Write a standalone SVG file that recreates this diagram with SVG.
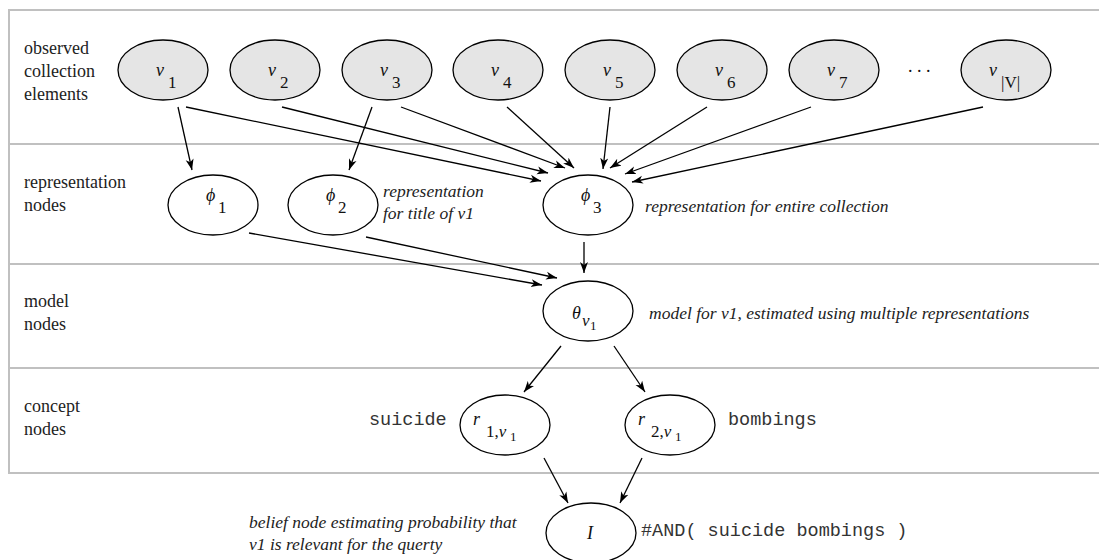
<svg xmlns="http://www.w3.org/2000/svg" width="1099" height="560" viewBox="0 0 1099 560">
  <defs>
    <marker id="ah" markerWidth="12" markerHeight="9" refX="11" refY="4.5" orient="auto" markerUnits="userSpaceOnUse">
      <path d="M0,0.5 L11,4.5 L0,8.5 L3,4.5 Z" fill="#000"/>
    </marker>
    <style>
      .band{fill:none;stroke:#c0c0c0;stroke-width:2}
      .row{font-family:"Liberation Serif",serif;font-size:18px;fill:#222}
      .note{font-family:"Liberation Serif",serif;font-size:17.5px;font-style:italic;fill:#222}
      .mono{font-family:"Liberation Mono",monospace;font-size:18.5px;fill:#333}
      .obs{fill:#e5e5e5;stroke:#000;stroke-width:1.3}
      .nd{fill:#fff;stroke:#000;stroke-width:1.3}
      .lbl{font-family:"Liberation Serif",serif;font-size:18px;fill:#111}
      .it{font-style:italic}
      .sub{font-size:17px}
      .ss{font-size:13px}
      .e{stroke:#000;stroke-width:1.3;fill:none;marker-end:url(#ah)}
    </style>
  </defs>

  <rect width="1099" height="560" fill="#fff"/>

  <!-- layer bands -->
  <g id="bands">
    <path class="band" d="M1100,10 H9 V473 H1100"/>
    <line class="band" x1="9" y1="144" x2="1100" y2="144"/>
    <line class="band" x1="9" y1="264" x2="1100" y2="264"/>
    <line class="band" x1="9" y1="368" x2="1100" y2="368"/>
    <text class="row" x="24" y="54">observed</text>
    <text class="row" x="24" y="77">collection</text>
    <text class="row" x="24" y="100">elements</text>
    <text class="row" x="24" y="188">representation</text>
    <text class="row" x="24" y="211">nodes</text>
    <text class="row" x="24" y="307">model</text>
    <text class="row" x="24" y="330">nodes</text>
    <text class="row" x="24" y="412">concept</text>
    <text class="row" x="24" y="435">nodes</text>
  </g>

  <!-- connectors -->
  <g id="edges">
    <line class="e" x1="178" y1="107" x2="192" y2="170"/>
    <line class="e" x1="186" y1="107" x2="541" y2="181"/>
    <line class="e" x1="282" y1="107" x2="548" y2="173"/>
    <line class="e" x1="372" y1="107" x2="349" y2="170"/>
    <line class="e" x1="401" y1="107" x2="565" y2="168"/>
    <line class="e" x1="507" y1="107" x2="574" y2="168"/>
    <line class="e" x1="610" y1="107" x2="603" y2="169"/>
    <line class="e" x1="707" y1="107" x2="610" y2="168"/>
    <line class="e" x1="811" y1="107" x2="625" y2="174"/>
    <line class="e" x1="983" y1="107" x2="632" y2="182"/>
    <line class="e" x1="249" y1="233" x2="542" y2="285"/>
    <line class="e" x1="366" y1="237" x2="557" y2="278"/>
    <line class="e" x1="584" y1="242" x2="584" y2="273"/>
    <line class="e" x1="561" y1="346" x2="524" y2="392"/>
    <line class="e" x1="614" y1="346" x2="645" y2="392"/>
    <line class="e" x1="544" y1="458" x2="568" y2="503"/>
    <line class="e" x1="642" y1="458" x2="620" y2="503"/>
  </g>

  <!-- observed collection elements -->
  <g id="v1"><ellipse class="obs" cx="163" cy="70" rx="45" ry="30"/>
    <text class="lbl" x="156" y="76"><tspan class="it">v</tspan><tspan class="sub" x="168" y="88">1</tspan></text></g>
  <g id="v2"><ellipse class="obs" cx="275" cy="70" rx="45" ry="30"/>
    <text class="lbl" x="268" y="76"><tspan class="it">v</tspan><tspan class="sub" x="280" y="88">2</tspan></text></g>
  <g id="v3"><ellipse class="obs" cx="387" cy="70" rx="45" ry="30"/>
    <text class="lbl" x="380" y="76"><tspan class="it">v</tspan><tspan class="sub" x="392" y="88">3</tspan></text></g>
  <g id="v4"><ellipse class="obs" cx="498" cy="70" rx="45" ry="30"/>
    <text class="lbl" x="491" y="76"><tspan class="it">v</tspan><tspan class="sub" x="503" y="88">4</tspan></text></g>
  <g id="v5"><ellipse class="obs" cx="610" cy="70" rx="45" ry="30"/>
    <text class="lbl" x="603" y="76"><tspan class="it">v</tspan><tspan class="sub" x="615" y="88">5</tspan></text></g>
  <g id="v6"><ellipse class="obs" cx="722" cy="70" rx="45" ry="30"/>
    <text class="lbl" x="715" y="76"><tspan class="it">v</tspan><tspan class="sub" x="727" y="88">6</tspan></text></g>
  <g id="v7"><ellipse class="obs" cx="834" cy="70" rx="45" ry="30"/>
    <text class="lbl" x="827" y="76"><tspan class="it">v</tspan><tspan class="sub" x="839" y="88">7</tspan></text></g>
  <g id="ellipsis"><text class="lbl" x="908" y="72">. . .</text></g>
  <g id="vV"><ellipse class="obs" cx="1006" cy="70" rx="45" ry="30"/>
    <text class="lbl" x="989" y="76"><tspan class="it">v</tspan><tspan class="sub" x="1001" y="88">|V|</tspan></text></g>

  <!-- representation nodes -->
  <g id="phi1"><ellipse class="nd" cx="213" cy="205" rx="45" ry="30"/>
    <text class="lbl" x="206" y="201"><tspan class="it">ϕ</tspan><tspan class="sub" x="218" y="213">1</tspan></text></g>
  <g id="phi2"><ellipse class="nd" cx="333" cy="205" rx="45" ry="30"/>
    <text class="lbl" x="326" y="201"><tspan class="it">ϕ</tspan><tspan class="sub" x="338" y="213">2</tspan></text>
    <text class="note" x="383" y="197">representation</text>
    <text class="note" x="383" y="219">for title of v1</text></g>
  <g id="phi3"><ellipse class="nd" cx="588" cy="205" rx="45" ry="30"/>
    <text class="lbl" x="581" y="201"><tspan class="it">ϕ</tspan><tspan class="sub" x="593" y="213">3</tspan></text>
    <text class="note" x="645" y="212">representation for entire collection</text></g>

  <!-- model node -->
  <g id="theta"><ellipse class="nd" cx="588" cy="311" rx="45" ry="30"/>
    <text class="lbl" x="572" y="319"><tspan class="it">θ</tspan><tspan class="it sub" x="582" y="326">v</tspan><tspan class="ss" x="590" y="330">1</tspan></text>
    <text class="note" x="649" y="319">model for v1, estimated using multiple representations</text></g>

  <!-- concept nodes -->
  <g id="r1"><ellipse class="nd" cx="505" cy="425" rx="45" ry="30"/>
    <text class="lbl" x="473" y="425"><tspan class="it">r</tspan><tspan class="sub" x="486" y="437">1,</tspan><tspan class="it sub">v</tspan><tspan class="ss" x="510" y="441">1</tspan></text>
    <text class="mono" x="369" y="425">suicide</text></g>
  <g id="r2"><ellipse class="nd" cx="670" cy="425" rx="45" ry="30"/>
    <text class="lbl" x="638" y="425"><tspan class="it">r</tspan><tspan class="sub" x="651" y="437">2,</tspan><tspan class="it sub">v</tspan><tspan class="ss" x="675" y="441">1</tspan></text>
    <text class="mono" x="728" y="425">bombings</text></g>

  <!-- belief node -->
  <g id="I"><ellipse class="nd" cx="591" cy="533" rx="45" ry="30"/>
    <text class="lbl it" x="587" y="539" font-size="19">I</text>
    <text class="mono" x="641" y="536">#AND( suicide bombings )</text>
    <text class="note" x="249" y="528">belief node estimating probability that</text>
    <text class="note" x="249" y="550">v1 is relevant for the querty</text></g>
</svg>
